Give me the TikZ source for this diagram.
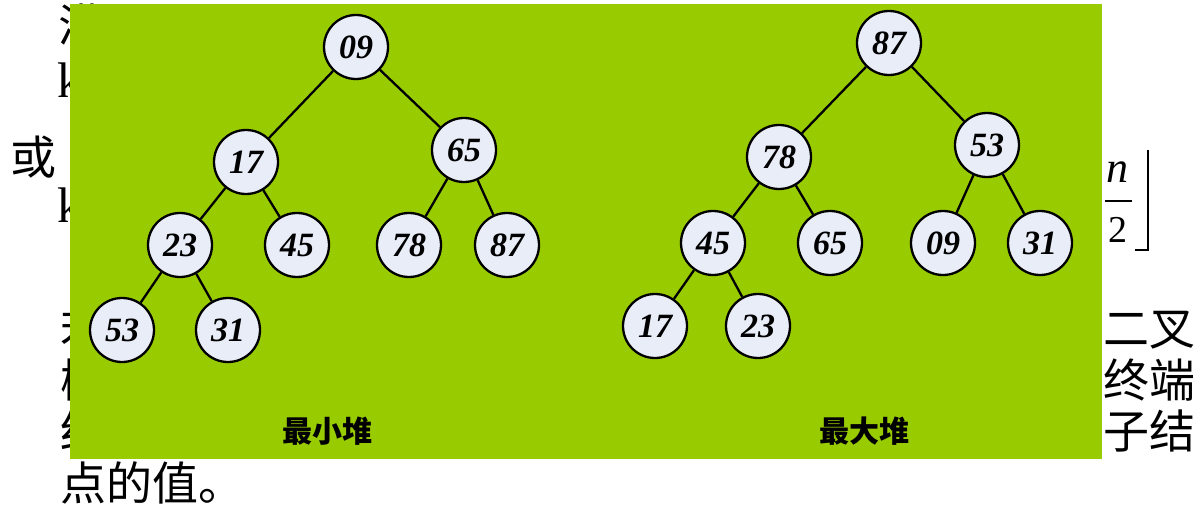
\documentclass[tikz,border=0pt]{standalone}
\usepackage{fontspec}
\setmainfont{Liberation Serif}
\newfontfamily\cjk{Noto Sans CJK SC}
\definecolor{panelgreen}{RGB}{153,204,0}
\definecolor{nodefill}{RGB}{233,237,247}
\begin{document}
\begin{tikzpicture}[x=1pt,y=-1pt,
  hnode/.style={circle,draw=black,line width=2.3pt,fill=nodefill,minimum size=64pt,
    inner sep=0pt,font=\fontsize{34}{34}\selectfont\bfseries\itshape},
  link/.style={line width=2.3pt},
  para/.style={font=\cjk\fontsize{46}{46}\selectfont,inner sep=0pt},
  latin/.style={font=\fontsize{50}{50}\selectfont,inner sep=0pt},
  caption/.style={font=\cjk\bfseries\fontsize{30}{30}\selectfont,inner sep=0pt}]
\useasboundingbox (0,0) rectangle (1200,511);
\fill[white] (0,0) rectangle (1200,511);

% paragraph text behind the panel
\node[para,anchor=west] (r1) at (58,25) {满};
\node[latin,anchor=base west] (r2) at (57,97) {k};
\node[para,anchor=west] (r3) at (10,157) {或};
\node[latin,anchor=base west] (r4) at (57,222) {k};
\node[para,anchor=west] (r5) at (60,330) {若};
\node[para,anchor=east] (r5e) at (1196,330) {二叉};
\node[para,anchor=west] (r6) at (60,380) {树};
\node[para,anchor=east] (r6e) at (1196,380) {终端};
\node[para,anchor=west] (r7) at (60,431) {结};
\node[para,anchor=east] (r7e) at (1196,431) {子结};
\node[para,anchor=west] (r8) at (60,483) {点的值。};

% floor of n/2
\node[font=\fontsize{44}{44}\selectfont\itshape,inner sep=0pt] (fn) at (1117,172) {n};
\node[font=\fontsize{38}{38}\selectfont,inner sep=0pt] (f2) at (1118,230) {2};
\coordinate (barl) at (1105,201);
\coordinate (barr) at (1132,201);
\draw[line width=1.3pt] (barl) -- (barr);
\coordinate (fltop) at (1148,150);
\coordinate (flbot) at (1148,250);
\coordinate (flend) at (1135,250);
\draw[line width=1.5pt] (fltop) -- (flbot) -- (flend);

% green panel
\fill[panelgreen] (70,4) rectangle (1102,459);

% minimum heap
\node[hnode] (a09) at (356,47) {09};
\node[hnode] (a17) at (246,162) {17};
\node[hnode] (a65) at (464,150) {65};
\node[hnode] (a23) at (180,245) {23};
\node[hnode] (a45) at (297,245) {45};
\node[hnode] (a78) at (409,245) {78};
\node[hnode] (a87) at (507,245) {87};
\node[hnode] (a53) at (122,330) {53};
\node[hnode] (a31) at (228,330) {31};
\draw[link] (a09) -- (a17);
\draw[link] (a09) -- (a65);
\draw[link] (a17) -- (a23);
\draw[link] (a17) -- (a45);
\draw[link] (a65) -- (a78);
\draw[link] (a65) -- (a87);
\draw[link] (a23) -- (a53);
\draw[link] (a23) -- (a31);
\node[caption] (capmin) at (327,431) {最小堆};

% maximum heap
\node[hnode] (b87) at (889,43) {87};
\node[hnode] (b78) at (779,157) {78};
\node[hnode] (b53) at (987,145) {53};
\node[hnode] (b45) at (713,243) {45};
\node[hnode] (b65) at (830,243) {65};
\node[hnode] (b09) at (943,243) {09};
\node[hnode] (b31) at (1040,243) {31};
\node[hnode] (b17) at (655,326) {17};
\node[hnode] (b23) at (758,326) {23};
\draw[link] (b87) -- (b78);
\draw[link] (b87) -- (b53);
\draw[link] (b78) -- (b45);
\draw[link] (b78) -- (b65);
\draw[link] (b53) -- (b09);
\draw[link] (b53) -- (b31);
\draw[link] (b45) -- (b17);
\draw[link] (b45) -- (b23);
\node[caption] (capmax) at (864,431) {最大堆};
\end{tikzpicture}
\end{document}
